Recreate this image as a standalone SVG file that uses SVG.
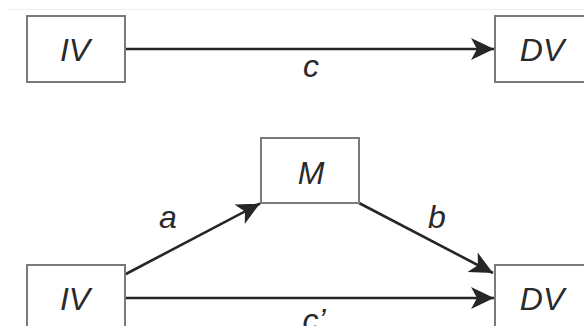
<svg xmlns="http://www.w3.org/2000/svg" width="584" height="326" viewBox="0 0 584 326">
<style>
.box{fill:#fff;stroke:#7a7a7a;stroke-width:2}
.lbl{font-family:"Liberation Sans",Arial,sans-serif;font-style:italic;font-size:32px;fill:#2a2a2a;text-anchor:middle}
.edge{stroke:#262626;stroke-width:2.6;fill:none;marker-end:url(#ah)}
</style>
<defs>
<marker id="ah" markerUnits="userSpaceOnUse" viewBox="-24 -12 26 24" refX="0" refY="0" markerWidth="26" markerHeight="24" orient="auto">
<path d="M0,0 L-23,-11 L-17,0 L-23,11 Z" fill="#262626"/>
</marker>
</defs>
<rect width="584" height="326" fill="#fff"/>
<line x1="7" y1="9.5" x2="584" y2="9.5" stroke="#eeeeee" stroke-width="1"/>
<g id="connectors">
<line class="edge" x1="125" y1="49" x2="494" y2="49"/>
<line class="edge" x1="124" y1="275" x2="260" y2="203.5"/>
<line class="edge" x1="359" y1="203" x2="493" y2="273"/>
<line class="edge" x1="125" y1="298" x2="494" y2="298"/>
</g>
<g id="node-iv-top"><rect class="box" x="27" y="16" width="98" height="66"/><text class="lbl" x="75" y="61">IV</text></g>
<g id="node-dv-top"><rect class="box" x="495" y="16" width="98" height="66"/><text class="lbl" x="542" y="61">DV</text></g>
<g id="node-m"><rect class="box" x="261" y="138" width="98" height="65"/><text class="lbl" x="311" y="184">M</text></g>
<g id="node-iv-bottom"><rect class="box" x="27" y="265" width="98" height="66"/><text class="lbl" x="75" y="310">IV</text></g>
<g id="node-dv-bottom"><rect class="box" x="495" y="265" width="98" height="66"/><text class="lbl" x="542" y="310">DV</text></g>
<g id="edge-labels">
<text class="lbl" x="311" y="77">c</text>
<text class="lbl" x="168" y="228">a</text>
<text class="lbl" x="437" y="228">b</text>
<text class="lbl" x="314" y="331">c’</text>
</g>
</svg>
